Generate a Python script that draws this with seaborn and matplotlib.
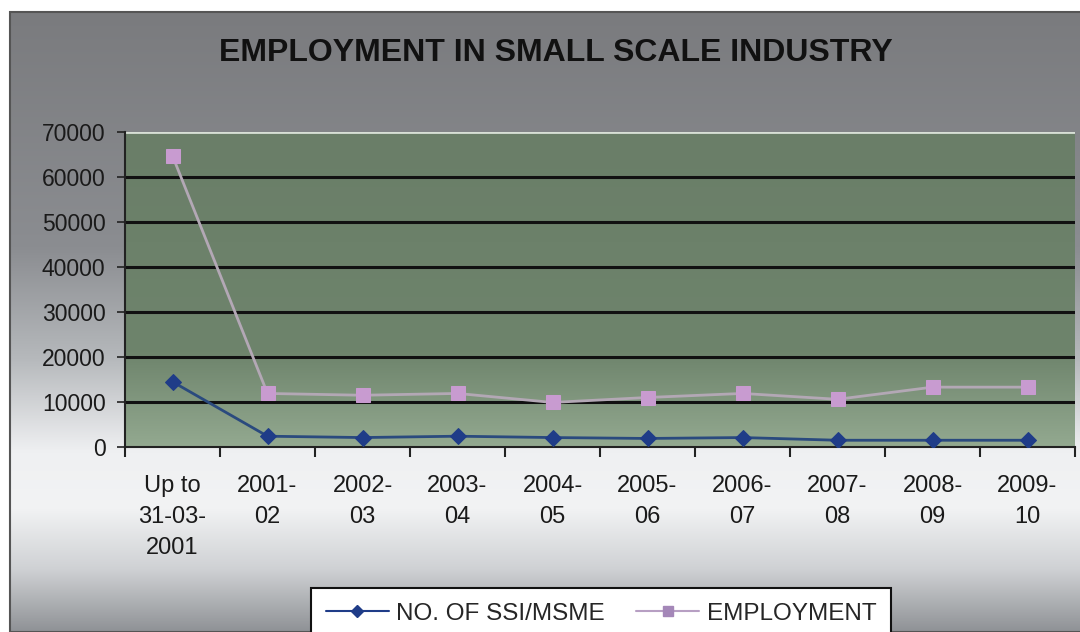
import matplotlib
matplotlib.use("Agg")
import matplotlib.pyplot as plt
import matplotlib.colors as mcolors
from matplotlib.patches import Rectangle
from matplotlib.lines import Line2D
import seaborn as sns
import pandas as pd
import numpy as np

# data
periods = ["Up to\n31-03-\n2001", "2001-\n02", "2002-\n03", "2003-\n04", "2004-\n05",
           "2005-\n06", "2006-\n07", "2007-\n08", "2008-\n09", "2009-\n10"]
ssi_units = [14500, 2400, 2100, 2400, 2100, 1900, 2100, 1500, 1500, 1500]
employment = [64700, 11900, 11500, 11900, 9900, 11000, 11900, 10600, 13300, 13300]
y_ticks = [0, 10000, 20000, 30000, 40000, 50000, 60000, 70000]

df = pd.DataFrame({"period": periods, "ssi": ssi_units, "emp": employment})

sns.set_style("white")
plt.rcParams["font.family"] = ["Liberation Sans", "DejaVu Sans"]

W, H = 1080, 632
fig = plt.figure(figsize=(W / 100, H / 100), dpi=100)
fig.patch.set_facecolor("white")


def vgrad(stops, n=400):
    # stops: list of (fraction from top, colour)
    pos = np.array([s[0] for s in stops])
    rgb = np.array([mcolors.to_rgb(s[1]) for s in stops])
    t = np.linspace(0, 1, n)
    img = np.stack([np.interp(t, pos, rgb[:, k]) for k in range(3)], axis=1)
    return img[:, None, :]


# chart-area background (grey -> white -> grey)
bg = fig.add_axes([10 / W, 0, 1 - 10 / W, 1 - 12 / H])
bg.set_zorder(-5)
frame_stops = [(0.0, "#7a7b7e"), (0.38, "#8b8d91"), (0.56, "#b6b9bc"),
               (0.71, "#eff0f2"), (0.80, "#f2f3f4"), (0.90, "#cfd1d4"), (1.0, "#8f9296")]
bg.imshow(vgrad(frame_stops), aspect="auto", extent=[0, 1, 0, 1])
bg.set_xlim(0, 1)
bg.set_ylim(0, 1)
bg.axis("off")
fig.patches.append(Rectangle((10 / W, 0), 1, 1 - 12 / H, transform=fig.transFigure,
                             fill=False, edgecolor="#555555", linewidth=1.5, zorder=-4))

# plot area
ax = fig.add_axes([125 / W, (H - 447) / H, (1075 - 125) / W, (447 - 132) / H])
ax.set_facecolor("none")
plot_stops = [(0.0, "#6a7e68"), (0.7, "#6e846c"), (1.0, "#93a990")]
ax.imshow(vgrad(plot_stops), aspect="auto", extent=[-0.5, 9.5, 0, 70000], zorder=0)

for yv in y_ticks[1:-1]:
    ax.axhline(yv, color="#111111", linewidth=2.2, zorder=1)
ax.axhline(70000, color="#d8e0d6", linewidth=2, zorder=1)

sns.lineplot(data=df, x="period", y="emp", ax=ax, sort=False, color="#b3a8b5",
             linewidth=2, marker="s", markersize=10, markerfacecolor="#c89bd0",
             markeredgecolor="#c89bd0", zorder=3)
sns.lineplot(data=df, x="period", y="ssi", ax=ax, sort=False, color="#2a4a7e",
             linewidth=2, marker="D", markersize=8, markerfacecolor="#1f3c88",
             markeredgecolor="#1f3c88", zorder=4)
ax.set_xlim(-0.5, 9.5)
ax.set_ylim(0, 70000)

ax.set_xlabel("")
ax.set_ylabel("")
ax.set_yticks(y_ticks)
ax.set_yticklabels([str(v) for v in y_ticks], fontsize=16.5, color="#1a1a1a")
ax.tick_params(axis="y", length=6, width=1.2, color="#222222", pad=8, left=True)
ax.set_xticks(range(len(periods)))
ax.set_xticklabels(periods, fontsize=17, color="#1a1a1a", linespacing=1.55)
ax.tick_params(axis="x", which="major", length=0, pad=20)
ax.set_xticks(np.arange(-0.5, 10, 1), minor=True)
ax.tick_params(axis="x", which="minor", length=7, width=1.5, color="#222222", bottom=True)

for side in ["top", "right"]:
    ax.spines[side].set_visible(False)
ax.spines["left"].set_color("#222222")
ax.spines["left"].set_linewidth(1.5)
ax.spines["bottom"].set_color("#222222")
ax.spines["bottom"].set_linewidth(1.5)

fig.text(556 / W, 1 - 53 / H, "EMPLOYMENT IN SMALL SCALE INDUSTRY", ha="center",
         va="center", fontsize=23, fontweight="bold", color="#111111")

handles = [
    Line2D([], [], color="#1f3c88", linewidth=1.5, marker="D", markersize=6,
           markerfacecolor="#1f3c88", markeredgecolor="#1f3c88"),
    Line2D([], [], color="#b79fc3", linewidth=1.5, marker="s", markersize=7,
           markerfacecolor="#a487b8", markeredgecolor="#a487b8"),
]
leg = fig.legend(handles, ["NO. OF SSI/MSME", "EMPLOYMENT"], ncol=2,
                 loc="upper center", bbox_to_anchor=(601 / W, 1 - 588 / H),
                 borderaxespad=0, fontsize=17.5, frameon=True, fancybox=False,
                 handlelength=2.6, handletextpad=0.3, columnspacing=1.3, borderpad=0.6)
leg.get_frame().set_edgecolor("#111111")
leg.get_frame().set_linewidth(1.5)
leg.get_frame().set_facecolor("white")
leg.get_frame().set_alpha(1)

fig.savefig("out.png", dpi=100)
